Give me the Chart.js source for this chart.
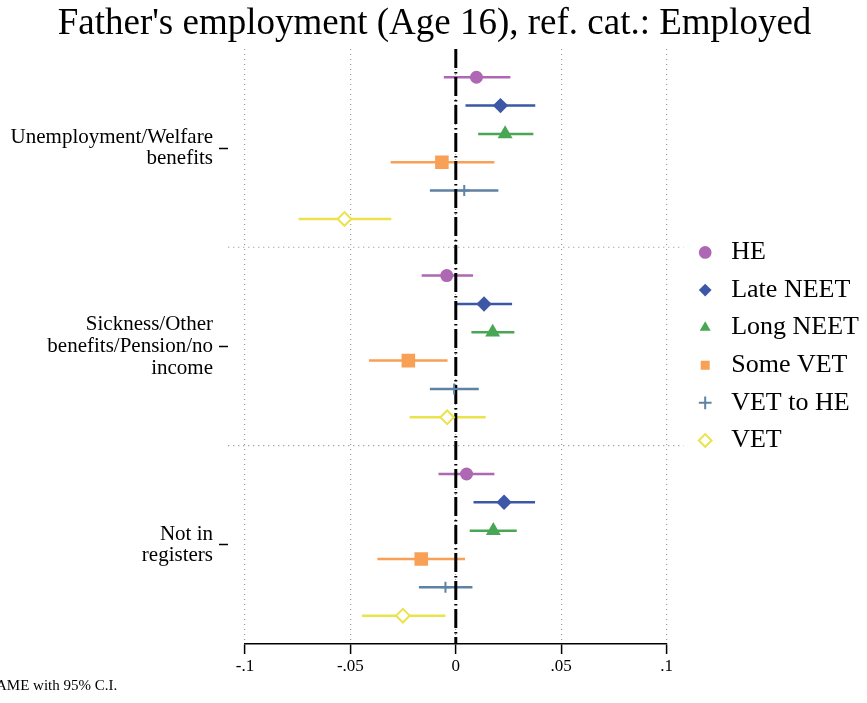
<!DOCTYPE html>
<html>
<head>
<meta charset="utf-8">
<title>Father's employment (Age 16)</title>
<script src="https://cdn.jsdelivr.net/npm/chart.js@4.4.1/dist/chart.umd.min.js"></script>
<style>
  html, body { margin: 0; padding: 0; background: #fff; }
</style>
</head>
<body>
<canvas id="chart" width="867" height="703"></canvas>
<script>
// y axis groups (father's situation) and the six outcome series
const groupLabels = [
    ['Unemployment/Welfare', 'benefits'],
    ['Sickness/Other', 'benefits/Pension/no', 'income'],
    ['Not in', 'registers']
];
const seriesNames = ['HE', 'Late NEET', 'Long NEET', 'Some VET', 'VET to HE', 'VET'];

// AME per group, with lower / upper 95% C.I. bounds
const heEst = [0.0098, -0.0043, 0.0051];
const heLow = [-0.0057, -0.0162, -0.0082];
const heHigh = [0.0259, 0.0082, 0.0183];

const lateEst = [0.0212, 0.0134, 0.0229];
const lateLow = [0.0046, 0.0003, 0.0084];
const lateHigh = [0.0377, 0.0267, 0.0376];

const longEst = [0.0234, 0.0175, 0.0178];
const longLow = [0.0106, 0.0074, 0.0066];
const longHigh = [0.0368, 0.0278, 0.0289];

const someEst = [-0.0066, -0.0225, -0.0164];
const someLow = [-0.0309, -0.0412, -0.0372];
const someHigh = [0.0183, -0.0039, 0.0044];

const vetHeEst = [0.0040, -0.0008, -0.0049];
const vetHeLow = [-0.0123, -0.0123, -0.0175];
const vetHeHigh = [0.0202, 0.0109, 0.0079];

const vetEst = [-0.0528, -0.0041, -0.0251];
const vetLow = [-0.0746, -0.0219, -0.0445];
const vetHigh = [-0.0306, 0.0142, -0.0049];

const xTicks = [-0.1, -0.05, 0, 0.05, 0.1];
const xTickLabels = ['-.1', '-.05', '0', '.05', '.1'];

const estimates = [heEst, lateEst, longEst, someEst, vetHeEst, vetEst];
const lows = [heLow, lateLow, longLow, someLow, vetHeLow, vetLow];
const highs = [heHigh, lateHigh, longHigh, someHigh, vetHeHigh, vetHigh];

// marker look per series
const colors = ['#ad67b3', '#3d57a7', '#49a654', '#f7a056', '#5f82a3', '#ebe34d'];
const fills = ['#ad67b3', '#3d57a7', '#49a654', '#f7a056', '#5f82a3', '#ffffff'];
const styles = ['circle', 'rectRot', 'triangle', 'rect', 'cross', 'rectRot'];
const radii = [6.5, 7.7, 8.6, 9.6, 5.5, 6.8];
const borders = [0, 0, 0, 0, 2, 2];

// each group takes 6 rows plus one empty row as a gap
const rowY = (g, s) => g * 7 + s;

Chart.defaults.font.family = "'Liberation Serif', 'Times New Roman', serif";
Chart.defaults.color = '#000';

const markerSets = seriesNames.map((name, s) => ({
    label: name,
    data: estimates[s].map((v, g) => ({ x: v, y: rowY(g, s) })),
    pointStyle: styles[s],
    pointRadius: radii[s],
    backgroundColor: fills[s],
    borderColor: colors[s],
    borderWidth: borders[s],
    order: 0
}));

const ciSets = seriesNames.map((name, s) => {
    const pts = [];
    lows[s].forEach((lo, g) => {
        pts.push({ x: lo, y: rowY(g, s) });
        pts.push({ x: highs[s][g], y: rowY(g, s) });
        pts.push({ x: null, y: null });
    });
    return {
        label: name + ' C.I.',
        data: pts,
        showLine: true,
        pointRadius: 0,
        borderColor: colors[s],
        borderWidth: 2.5,
        order: 2
    };
});

const zeroLine = {
    label: 'zero',
    data: [{ x: 0, y: -1 }, { x: 0, y: 20 }],
    showLine: true,
    pointRadius: 0,
    borderColor: '#000',
    borderWidth: 3,
    borderDash: [19, 4, 1.5, 3.5],
    order: 1
};

// dotted lines between the groups, running a little past the plot edges
const separators = {
    label: 'sep',
    data: [
        { x: -0.108, y: 6 }, { x: 0.108, y: 6 }, { x: null, y: null },
        { x: -0.108, y: 13 }, { x: 0.108, y: 13 }
    ],
    showLine: true,
    pointRadius: 0,
    borderColor: '#9a9a9a',
    borderWidth: 1.2,
    borderDash: [1.2, 3.8],
    clip: false,
    order: 3
};

// note under the plot, partly cut off at the left edge like the original
const footNote = {
    id: 'footNote',
    afterDraw(chart) {
        const ctx = chart.ctx;
        ctx.save();
        ctx.font = "15px 'Liberation Serif'";
        ctx.fillStyle = '#000';
        ctx.textBaseline = 'alphabetic';
        ctx.fillText('AME with 95% C.I.', -4, 690);
        ctx.restore();
    }
};

new Chart(document.getElementById('chart'), {
    type: 'scatter',
    data: { datasets: [...markerSets, zeroLine, ...ciSets, separators] },
    plugins: [footNote],
    options: {
        responsive: false,
        animation: false,
        events: [],
        layout: { padding: { left: 0, top: 0, bottom: 0, right: -2 } },
        plugins: {
            title: {
                display: true,
                text: "Father's employment (Age 16), ref. cat.: Employed",
                font: { size: 37, weight: 'normal' },
                color: '#000',
                padding: { top: 1.8, bottom: 2.7 }
            },
            legend: {
                position: 'right',
                fullSize: false,
                align: 'center',
                maxWidth: 200,
                labels: {
                    usePointStyle: true,
                    boxWidth: 26,
                    boxHeight: 9,
                    padding: 11.6,
                    font: { size: 26 },
                    color: '#000',
                    filter: item => item.datasetIndex < seriesNames.length
                }
            },
            tooltip: { enabled: false }
        },
        scales: {
            x: {
                type: 'linear',
                min: -0.1,
                max: 0.1,
                afterBuildTicks: scale => { scale.ticks = xTicks.map(v => ({ value: v })); },
                afterFit: scale => { scale.height = 59; },
                ticks: {
                    callback: (v, i) => xTickLabels[i],
                    font: { size: 17 },
                    padding: 2,
                    maxRotation: 0,
                    autoSkip: false
                },
                grid: {
                    color: '#9a9a9a',
                    lineWidth: 1.2,
                    tickColor: '#000',
                    tickWidth: 1.5,
                    tickLength: 10,
                    tickBorderDash: []
                },
                border: { display: true, color: '#000', width: 1.5, dash: [1.2, 3.8] }
            },
            y: {
                type: 'linear',
                reverse: true,
                min: -1,
                max: 20,
                afterBuildTicks: scale => { scale.ticks = groupLabels.map((l, g) => ({ value: g * 7 + 2.5 })); },
                afterFit: scale => { scale.width = 245; },
                ticks: {
                    callback: (v, i) => groupLabels[i],
                    font: { size: 21, lineHeight: 1.03 },
                    padding: 6,
                    autoSkip: false
                },
                grid: {
                    drawOnChartArea: false,
                    drawTicks: true,
                    tickLength: 26,
                    tickColor: '#000',
                    tickWidth: 1.5,
                    tickBorderDash: [9, 40]
                },
                border: { display: false }
            },
            // empty spacer between the plot and the legend
            pad: {
                type: 'linear',
                position: 'right',
                display: true,
                afterFit: scale => { scale.width = 14; },
                grid: { display: false },
                ticks: { display: false },
                border: { display: false }
            }
        }
    }
});
</script>
</body>
</html>
